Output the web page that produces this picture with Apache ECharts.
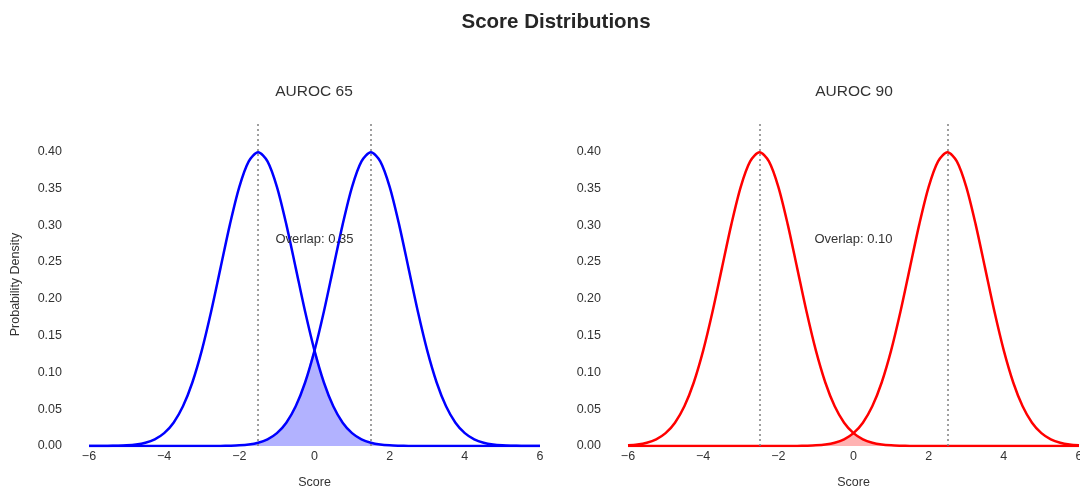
<!DOCTYPE html>
<html><head><meta charset="utf-8">
<script src="https://cdn.jsdelivr.net/npm/echarts@6/dist/echarts.min.js"></script>
<style>html,body{margin:0;padding:0;background:#fff;overflow:hidden}#c{width:1080px;height:489px}</style>
</head><body><div id="c"></div>
<script>
// x grid of sample points (Score)
var xs = [-6,-5.75,-5.5,-5.25,-5,-4.75,-4.5,-4.25,-4,-3.75,-3.5,-3.25,-3,-2.75,-2.5,-2.25,-2,-1.75,-1.5,-1.25,-1,-0.75,-0.5,-0.25,0,
          0.25,0.5,0.75,1,1.25,1.5,1.75,2,2.25,2.5,2.75,3,3.25,3.5,3.75,4,4.25,4.5,4.75,5,5.25,5.5,5.75,6];
// AUROC 65 panel: negative / positive class densities
var auroc65Neg = [0,0,0.0001,0.0004,0.0009,0.0020,0.0044,0.0091,0.0175,0.0317,0.0540,0.0863,0.1295,0.1826,0.2420,0.3011,0.3521,0.3867,0.3989,0.3867,0.3521,0.3011,0.2420,0.1826,0.1295,
                  0.0863,0.0540,0.0317,0.0175,0.0091,0.0044,0.0020,0.0009,0.0004,0.0001,0,0,0,0,0,0,0,0,0,0,0,0,0,0];
var auroc65Pos = [0,0,0,0,0,0,0,0,0,0,0,0,0,0,0.0001,0.0004,0.0009,0.0020,0.0044,0.0091,0.0175,0.0317,0.0540,0.0863,0.1295,
                  0.1826,0.2420,0.3011,0.3521,0.3867,0.3989,0.3867,0.3521,0.3011,0.2420,0.1826,0.1295,0.0863,0.0540,0.0317,0.0175,0.0091,0.0044,0.0020,0.0009,0.0004,0.0001,0,0];
// AUROC 90 panel
var auroc90Neg = [0.0009,0.0020,0.0044,0.0091,0.0175,0.0317,0.0540,0.0863,0.1295,0.1826,0.2420,0.3011,0.3521,0.3867,0.3989,0.3867,0.3521,0.3011,0.2420,0.1826,0.1295,0.0863,0.0540,0.0317,0.0175,
                  0.0091,0.0044,0.0020,0.0009,0.0004,0.0001,0,0,0,0,0,0,0,0,0,0,0,0,0,0,0,0,0,0];
var auroc90Pos = [0,0,0,0,0,0,0,0,0,0,0,0,0,0,0,0,0,0,0.0001,0.0004,0.0009,0.0020,0.0044,0.0091,0.0175,
                  0.0317,0.0540,0.0863,0.1295,0.1826,0.2420,0.3011,0.3521,0.3867,0.3989,0.3867,0.3521,0.3011,0.2420,0.1826,0.1295,0.0863,0.0540,0.0317,0.0175,0.0091,0.0044,0.0020,0.0009];
var means65 = [-1.5, 1.5];
var means90 = [-2.5, 2.5];
var overlapLabels = ['Overlap: 0.35', 'Overlap: 0.10'];
var panelTitles = ['AUROC 65', 'AUROC 90'];

function pairs(ys){ return xs.map(function(x,i){return [x, ys[i]];}); }
function minPairs(a,b){ return xs.map(function(x,i){return [x, Math.min(a[i],b[i])];}); }

var FONT = 'Liberation Sans, Arial, sans-serif';
var chart = echarts.init(document.getElementById('c'));
var grids = [
  {left:89, right:540, top:123, bottom:43, outerBoundsMode:'none', containLabel:false},
  {left:628, right:1, top:123, bottom:43, outerBoundsMode:'none', containLabel:false}
];
function xAxis(gi){
  return {type:'value', gridIndex:gi, min:-6, max:6, interval:2,
    name:'Score', nameLocation:'middle', nameGap:30,
    nameTextStyle:{fontFamily:FONT, fontSize:12.5, color:'#333'},
    axisLine:{show:true, lineStyle:{color:'#fff'}}, axisTick:{show:false}, splitLine:{show:false},
    axisLabel:{fontFamily:FONT, fontSize:12.5, color:'#333', margin:4, hideOverlap:false,
      formatter:function(v){ return String(v).replace('-', '\u2212'); }}};
}
function yAxis(gi, named){
  return {type:'value', gridIndex:gi, min:0, max:0.4388, interval:0.05,
    name: named ? 'Probability Density' : '', nameLocation:'middle', nameGap:67, nameRotate:90,
    nameTextStyle:{fontFamily:FONT, fontSize:12.5, color:'#333'},
    axisLine:{show:false}, axisTick:{show:false}, splitLine:{show:false},
    axisLabel:{fontFamily:FONT, fontSize:12.5, color:'#333', margin:27, showMaxLabel:false,
      padding:[2,0,0,0],
      formatter:function(v){ return v.toFixed(2); }}};
}
function curve(gi, ys, color, marks){
  var s = {type:'line', xAxisIndex:gi, yAxisIndex:gi, data:pairs(ys), smooth:0.3, symbol:'none',
    lineStyle:{color:color, width:2.5}, z:3};
  if (marks){
    s.markLine = {silent:true, symbol:'none', label:{show:false},
      lineStyle:{color:'#808080', type:[2,3], width:1.5},
      data: marks.map(function(m){return {xAxis:m};})};
  }
  return s;
}
function fill(gi, a, b, color, label){
  return {type:'line', xAxisIndex:gi, yAxisIndex:gi, data:minPairs(a,b), smooth:0.3, symbol:'none',
    lineStyle:{width:0}, areaStyle:{color:color, opacity:1}, z:2,
    markPoint:{symbol:'circle', symbolSize:0, silent:true,
      label:{show:true, formatter:label, fontFamily:FONT, fontSize:13, color:'#333', position:'inside'},
      data:[{coord:[0,0.28]}]}};
}

chart.setOption({
  backgroundColor:'#fff',
  animation:false,
  title:[
    {text:'Score Distributions', left:556, top:12, textAlign:'center', padding:0,
      textStyle:{fontFamily:FONT, fontSize:20.5, fontWeight:'bold', color:'#262626'}},
    {text:panelTitles[0], left:314, top:84, textAlign:'center', padding:0,
      textStyle:{fontFamily:FONT, fontSize:15.5, fontWeight:'normal', color:'#333'}},
    {text:panelTitles[1], left:854, top:84, textAlign:'center', padding:0,
      textStyle:{fontFamily:FONT, fontSize:15.5, fontWeight:'normal', color:'#333'}}
  ],
  grid:grids,
  xAxis:[xAxis(0), xAxis(1)],
  yAxis:[yAxis(0,true), yAxis(1,false)],
  series:[
    fill(0, auroc65Neg, auroc65Pos, 'rgba(0,0,255,0.3)', overlapLabels[0]),
    curve(0, auroc65Neg, '#0000ff', means65),
    curve(0, auroc65Pos, '#0000ff'),
    fill(1, auroc90Neg, auroc90Pos, 'rgba(255,0,0,0.3)', overlapLabels[1]),
    curve(1, auroc90Neg, '#ff0000', means90),
    curve(1, auroc90Pos, '#ff0000')
  ]
});
</script></body></html>
